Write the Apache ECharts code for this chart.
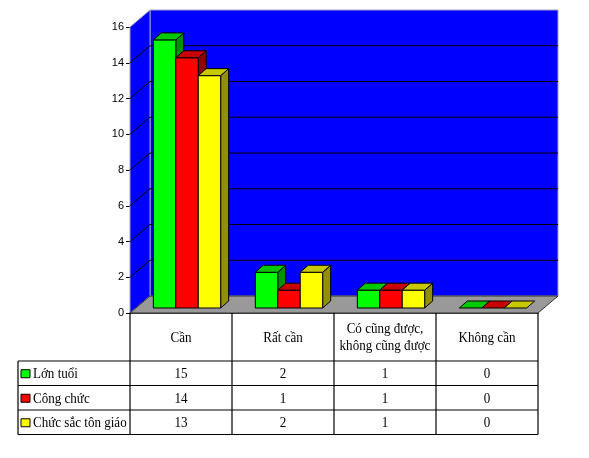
<!DOCTYPE html>
<html>
<head>
<meta charset="utf-8">
<script src="https://cdn.jsdelivr.net/npm/echarts@6/dist/echarts.min.js"></script>
<style>
html,body{margin:0;padding:0;background:#fff;}
#chart{width:589px;height:458px;}
</style>
</head>
<body>
<div id="chart"></div>
<script>
// ---- data ----
const categories = ['Cần', 'Rất cần', 'Có cũng được,\nkhông cũng được', 'Không cần'];
const seriesNames = ['Lớn tuổi', 'Công chức', 'Chức sắc tôn giáo'];
const lonTuoi = [15, 2, 1, 0];
const congChuc = [14, 1, 1, 0];
const chucSac = [13, 2, 1, 0];
const yTicks = [0, 2, 4, 6, 8, 10, 12, 14, 16];

const seriesValues = [lonTuoi, congChuc, chucSac];
const frontColors = ['#00FF00', '#FF0000', '#FFFF00'];
const topColors = ['#00C800', '#C80000', '#C8C800'];
const sideColors = ['#009000', '#900000', '#909000'];

const WALL_DX = 20, WALL_DY = -17;   // depth of the chart box
const BAR_DX = 6, BAR_DY = -5;       // bar plane offset
const DEP_DX = 8, DEP_DY = -7;       // bar depth

const chart = echarts.init(document.getElementById('chart'), null, {renderer: 'canvas'});

function bandInfo(api) {
  const bw = api.size([1, 0])[0];
  const left = api.coord([0, 0])[0] - bw / 2;
  const right = api.coord([categories.length - 1, 0])[0] + bw / 2;
  return {bw, left, right};
}

// walls, floor, gridlines
function renderWalls(params, api) {
  const {left, right} = bandInfo(api);
  const y0 = api.coord([0, 0])[1];
  const yMax = api.coord([0, yTicks[yTicks.length - 1]])[1];
  const children = [];
  children.push({type: 'polygon', shape: {points: [
    [left + WALL_DX, yMax + WALL_DY], [right + WALL_DX, yMax + WALL_DY],
    [right + WALL_DX, y0 + WALL_DY], [left + WALL_DX, y0 + WALL_DY]]},
    style: {fill: '#0000FF', stroke: '#a0a0c8', lineWidth: 1}});
  children.push({type: 'polygon', shape: {points: [
    [left, yMax], [left + WALL_DX, yMax + WALL_DY],
    [left + WALL_DX, y0 + WALL_DY], [left, y0]]},
    style: {fill: '#0000FF', stroke: '#a0a0c8', lineWidth: 1}});
  children.push({type: 'polygon', shape: {points: [
    [left, y0], [right, y0], [right + WALL_DX, y0 + WALL_DY], [left + WALL_DX, y0 + WALL_DY]]},
    style: {fill: '#999999', stroke: '#333333', lineWidth: 1}});
  yTicks.forEach(v => {
    if (v === 0 || v === yTicks[yTicks.length - 1]) return;
    const y = api.coord([0, v])[1];
    children.push({type: 'polyline', shape: {points: [
      [left, y], [left + WALL_DX, y + WALL_DY], [right + WALL_DX, y + WALL_DY]]},
      style: {fill: null, stroke: '#000000', lineWidth: 1}});
  });
  return {type: 'group', children};
}

function makeBarRenderer(si) {
  return function (params, api) {
    const cat = api.value(0), val = api.value(1);
    const bw = api.size([1, 0])[0];
    const barW = bw * 0.22;
    const groupW = barW * seriesValues.length;
    const base = api.coord([cat, 0]);
    const topP = api.coord([cat, val]);
    const x0 = base[0] - groupW / 2 + si * barW + BAR_DX;
    const x1 = x0 + barW;
    const yb = base[1] + BAR_DY;
    const yt = topP[1] + BAR_DY;
    const st = {stroke: '#000', lineWidth: 1, lineJoin: 'round'};
    const children = [];
    if (val > 0) {
      children.push({type: 'polygon', shape: {points: [
        [x1, yt], [x1 + DEP_DX, yt + DEP_DY], [x1 + DEP_DX, yb + DEP_DY], [x1, yb]]},
        style: Object.assign({fill: sideColors[si]}, st)});
      children.push({type: 'rect', shape: {x: x0, y: yt, width: barW, height: yb - yt},
        style: Object.assign({fill: frontColors[si]}, st)});
    }
    children.push({type: 'polygon', shape: {points: [
      [x0, yt], [x1, yt], [x1 + DEP_DX, yt + DEP_DY], [x0 + DEP_DX, yt + DEP_DY]]},
      style: Object.assign({fill: topColors[si]}, st)});
    return {type: 'group', children};
  };
}

// data table under the chart
const HEADER_H = 48, ROW_H = 24.5, LEGEND_LEFT = 18;
const FONT = '15px Liberation Serif, Times New Roman, serif';
const SX = 0.87;
function txt(text, x, y, align) {
  return {type: 'text', x: x, y: y, scaleX: SX, style: {
    text: text, x: 0, y: 0, align: align, verticalAlign: 'middle',
    font: FONT, fill: '#000', lineHeight: 17}};
}
function renderTable(params, api) {
  const {bw, left, right} = bandInfo(api);
  const y0 = api.coord([0, 0])[1];
  const children = [];
  const line = (pts) => children.push({type: 'polyline', shape: {points: pts},
    style: {fill: null, stroke: '#000', lineWidth: 1.2}});
  const yBottom = y0 + HEADER_H + ROW_H * seriesNames.length;
  for (let i = 0; i <= categories.length; i++) {
    const x = left + i * bw;
    line([[x, y0], [x, yBottom]]);
  }
  line([[LEGEND_LEFT, y0 + HEADER_H], [LEGEND_LEFT, yBottom]]);
  for (let r = 0; r <= seriesNames.length; r++) {
    const y = y0 + HEADER_H + r * ROW_H;
    line([[LEGEND_LEFT, y], [right, y]]);
  }
  categories.forEach((c, i) => {
    children.push(txt(c, api.coord([i, 0])[0], y0 + HEADER_H / 2 + 1, 'center'));
  });
  seriesNames.forEach((name, r) => {
    const yc = y0 + HEADER_H + r * ROW_H + ROW_H / 2 + 1;
    children.push({type: 'rect', shape: {x: LEGEND_LEFT + 3, y: yc - 4.5, width: 9, height: 8},
      style: {fill: frontColors[r], stroke: '#000', lineWidth: 1}});
    children.push(txt(name, LEGEND_LEFT + 15, yc, 'left'));
    seriesValues[r].forEach((v, i) => {
      children.push(txt(String(v), api.coord([i, 0])[0], yc, 'center'));
    });
  });
  return {type: 'group', children};
}

const option = {
  animation: false,
  backgroundColor: '#ffffff',
  grid: {left: 130, right: 51, top: 27, bottom: 145, containLabel: false},
  xAxis: {
    type: 'category', data: categories, boundaryGap: true,
    axisLine: {show: true, lineStyle: {color: '#000', width: 1.5}},
    axisTick: {show: false}, axisLabel: {show: false}, splitLine: {show: false}
  },
  yAxis: {
    type: 'value', min: yTicks[0], max: yTicks[yTicks.length - 1], interval: 2,
    axisLine: {show: true, lineStyle: {color: '#000', width: 1}},
    axisTick: {show: true, length: 4, lineStyle: {color: '#000'}},
    axisLabel: {show: true, margin: 6, fontSize: 11, color: '#000', fontFamily: 'Liberation Sans, Arial, sans-serif'},
    splitLine: {show: false}
  },
  series: [
    {type: 'custom', name: 'walls', renderItem: renderWalls, data: [[0, 0]], z: 1, silent: true, clip: false},
    ...seriesNames.map((n, si) => ({
      type: 'custom', name: n, renderItem: makeBarRenderer(si), z: 2 + si, clip: false,
      data: seriesValues[si].map((v, i) => [i, v])
    })),
    {type: 'custom', name: 'table', renderItem: renderTable, data: [[0, 0]], z: 10, silent: true, clip: false}
  ]
};
chart.setOption(option);
</script>
</body>
</html>
